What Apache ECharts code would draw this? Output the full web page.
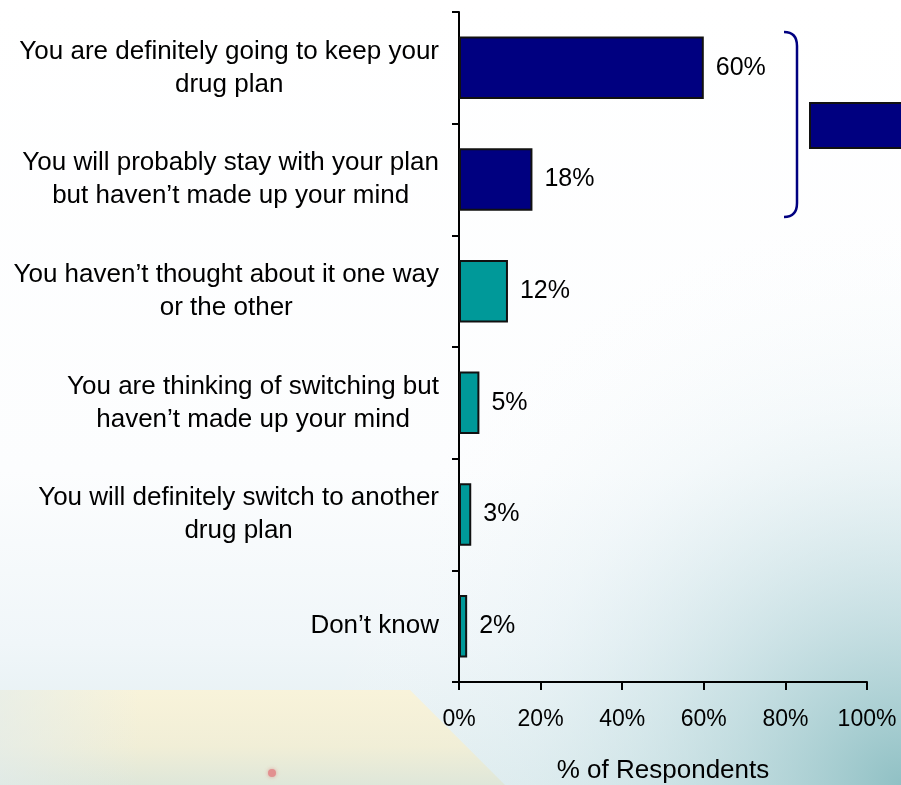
<!DOCTYPE html>
<html>
<head>
<meta charset="utf-8">
<script src="https://cdn.jsdelivr.net/npm/echarts@6/dist/echarts.min.js"></script>
<style>
  html, body { margin: 0; padding: 0; background: #fff; }
  #chart { width: 901px; height: 785px; }
</style>
</head>
<body>
<div id="chart"></div>
<script>
// Survey answers, top to bottom
const categories = [
  'You are definitely going to keep your\ndrug plan',
  'You will probably stay with your plan\nbut haven\u2019t made up your mind',
  'You haven\u2019t thought about it one way\nor the other',
  'You are thinking of switching but\nhaven\u2019t made up your mind',
  'You will definitely switch to another\ndrug plan',
  'Don\u2019t know'
];
// Share of respondents (%)
const values = [60, 18, 12, 5, 3, 2];
// Answers that mean staying with the current plan
const stayGroup = [true, true, false, false, false, false];
// Horizontal axis ticks (%)
const xTicks = [0, 20, 40, 60, 80, 100];
const xTitle = '% of Respondents';

const NAVY = '#000080';
const TEAL = '#009999';
const FONT = '"Liberation Sans", Arial, sans-serif';

const chart = echarts.init(document.getElementById('chart'), null, { renderer: 'canvas' });

const braceStyle = { fill: 'none', stroke: NAVY, lineWidth: 2.5 };

const option = {
  animation: false,
  backgroundColor: '#ffffff',
  textStyle: { fontFamily: FONT },
  graphic: [
    // soft backdrop: bluish wash toward the bottom right
    {
      type: 'rect', z: -20, silent: true,
      shape: { x: 0, y: 0, width: 901, height: 785 },
      style: {
        fill: {
          type: 'linear', x: 0, y: 0, x2: 0, y2: 1,
          colorStops: [
            { offset: 0, color: 'rgba(255,255,255,1)' },
            { offset: 0.6, color: 'rgba(252,253,254,1)' },
            { offset: 0.82, color: 'rgba(240,246,249,1)' },
            { offset: 1, color: 'rgba(222,236,238,1)' }
          ]
        }
      }
    },
    {
      type: 'rect', z: -19, silent: true,
      shape: { x: 0, y: 0, width: 901, height: 785 },
      style: {
        fill: {
          type: 'radial', x: 1, y: 1, r: 0.75,
          colorStops: [
            { offset: 0, color: 'rgba(140,190,194,0.95)' },
            { offset: 0.3, color: 'rgba(175,210,214,0.6)' },
            { offset: 0.65, color: 'rgba(220,236,240,0.25)' },
            { offset: 1, color: 'rgba(255,255,255,0)' }
          ]
        }
      }
    },
    // pale sand-coloured shape at the lower left
    {
      type: 'polygon', z: -18, silent: true,
      shape: { points: [[0, 690], [410, 690], [505, 785], [0, 785]] },
      style: {
        fill: {
          type: 'linear', x: 0, y: 0, x2: 0, y2: 1,
          colorStops: [
            { offset: 0, color: 'rgba(250,243,215,0.9)' },
            { offset: 0.6, color: 'rgba(242,238,212,0.9)' },
            { offset: 1, color: 'rgba(222,230,215,0.9)' }
          ]
        }
      }
    },
    {
      type: 'rect', z: -17, silent: true,
      shape: { x: 0, y: 690, width: 140, height: 95 },
      style: {
        fill: {
          type: 'linear', x: 0, y: 0, x2: 1, y2: 0,
          colorStops: [
            { offset: 0, color: 'rgba(225,236,238,0.6)' },
            { offset: 1, color: 'rgba(225,236,238,0)' }
          ]
        }
      }
    },
    {
      type: 'circle', z: -16, silent: true,
      shape: { cx: 272, cy: 773, r: 4 },
      style: { fill: '#e29090', shadowBlur: 4, shadowColor: 'rgba(220,120,120,0.6)' }
    },
    // brace grouping the two "stay" answers
    {
      type: 'bezierCurve', z: 10, silent: true,
      shape: { x1: 784, y1: 32, cpx1: 797, cpy1: 32, x2: 797, y2: 46 },
      style: braceStyle
    },
    {
      type: 'line', z: 10, silent: true,
      shape: { x1: 797, y1: 46, x2: 797, y2: 203 },
      style: braceStyle
    },
    {
      type: 'bezierCurve', z: 10, silent: true,
      shape: { x1: 797, y1: 203, cpx1: 797, cpy1: 217, x2: 784, y2: 217 },
      style: braceStyle
    },
    // combined bar of the summary panel, running off the right edge
    {
      type: 'rect', z: 10, silent: true,
      shape: { x: 810, y: 103, width: 120, height: 45 },
      style: { fill: NAVY, stroke: '#111', lineWidth: 2 }
    }
  ],
  grid: { left: 459, right: 34, top: 12, bottom: 103, containLabel: false, outerBoundsMode: 'none' },
  xAxis: {
    type: 'value',
    min: xTicks[0],
    max: xTicks[xTicks.length - 1],
    interval: xTicks[1] - xTicks[0],
    name: xTitle,
    nameLocation: 'middle',
    nameGap: 76,
    nameTextStyle: { color: '#000', fontSize: 26, fontFamily: FONT },
    axisLine: { show: true, lineStyle: { color: '#000', width: 2 } },
    axisTick: { show: true, length: 8, lineStyle: { color: '#000', width: 2 } },
    axisLabel: {
      color: '#000', fontSize: 23, fontFamily: FONT, margin: 26,
      formatter: v => v + '%'
    },
    splitLine: { show: false }
  },
  yAxis: {
    type: 'category',
    inverse: true,
    data: categories,
    axisLine: { show: true, lineStyle: { color: '#000', width: 2 } },
    axisTick: { show: true, length: 7, lineStyle: { color: '#000', width: 2 } },
    axisLabel: {
      color: '#000', fontSize: 26, fontFamily: FONT, margin: 20,
      lineHeight: 33,
      formatter: v => v.split('\n').map(s => '{c|' + s + '}').join('\n'),
      rich: {
        c: { align: 'center', fontSize: 26, lineHeight: 33, color: '#000', fontFamily: FONT }
      }
    }
  },
  series: [{
    type: 'bar',
    barWidth: '56%',
    data: values.map((v, i) => ({
      value: v,
      itemStyle: { color: stayGroup[i] ? NAVY : TEAL }
    })),
    itemStyle: { borderColor: '#111', borderWidth: 2 },
    label: {
      show: true,
      position: 'right',
      distance: 12,
      color: '#000',
      fontSize: 25,
      fontFamily: FONT,
      formatter: p => p.value + '%'
    }
  }]
};

chart.setOption(option);
</script>
</body>
</html>
